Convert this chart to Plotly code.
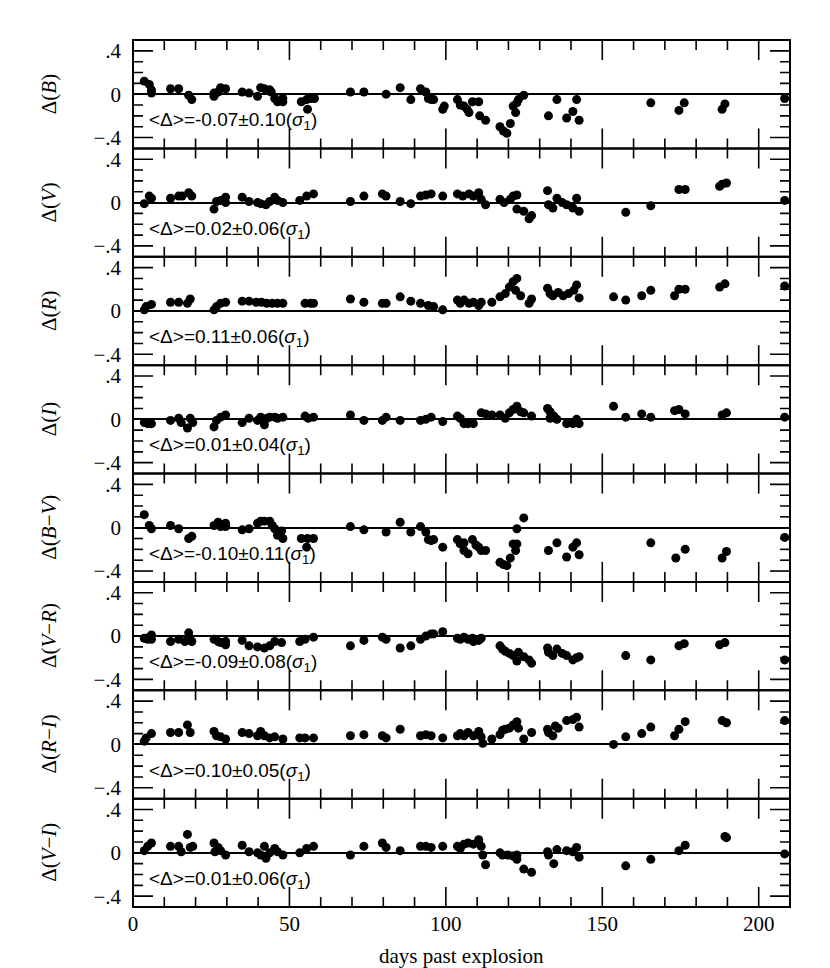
import plotly.graph_objects as go
from plotly.subplots import make_subplots

# ---------------- data ----------------
days_B = [3.6, 5.2, 5.9, 5.9, 12.0, 14.6, 17.8, 18.8, 25.9, 25.9, 27.2, 28.0, 29.6, 34.9, 37.1, 39.8, 40.8, 42.0, 43.7, 44.2,
          45.3, 46.2, 47.9, 47.9, 53.8, 55.5, 55.8, 56.7, 58.0, 69.5, 73.8, 80.9, 85.4, 88.8, 91.9, 93.6, 94.4, 95.3, 96.1, 99.0,
          99.5, 103.7, 104.6, 105.8, 106.8, 107.4, 108.5, 110.5, 110.8, 112.7, 117.3, 118.4, 119.5, 120.6, 121.5, 122.3, 122.7,
          123.2, 124.9, 132.8, 135.5, 138.6, 140.6, 141.8, 142.6, 165.5, 174.5, 176.2, 188.3, 189.2, 208.3]
dB = [0.12, 0.09, 0.04, 0.01, 0.05, 0.05, -0.01, -0.05, 0.01, -0.02, 0.02, 0.06, 0.05, 0.02, 0.01, -0.02, 0.06, 0.05, 0.04, 0.02,
      -0.04, -0.07, -0.07, -0.04, -0.07, -0.05, -0.14, -0.04, -0.04, 0.02, 0.02, 0.0, 0.06, -0.05, 0.05, 0.02, -0.04, -0.05, -0.05, -0.14,
      -0.11, -0.05, -0.10, -0.11, -0.14, -0.17, -0.07, -0.07, -0.20, -0.24, -0.30, -0.34, -0.36, -0.27, -0.11, -0.17, -0.08,
      -0.05, -0.01, -0.20, -0.05, -0.22, -0.16, -0.05, -0.24, -0.08, -0.15, -0.08, -0.14, -0.09, -0.04]

days_V = [3.6, 5.2, 5.9, 12.0, 14.6, 15.7, 17.8, 18.8, 25.9, 26.7, 28.0, 29.6, 29.6, 34.9, 37.1, 39.8, 40.8, 42.5, 43.7, 45.3,
          46.2, 47.9, 53.3, 55.5, 57.7, 69.5, 73.8, 79.7, 80.9, 85.4, 88.8, 91.9, 93.6, 95.3, 99.0, 103.7, 105.4, 107.4, 108.8,
          110.5, 111.3, 112.7, 117.3, 118.6, 120.6, 121.5, 122.7, 122.7, 124.9, 126.6, 127.4, 132.5, 132.8, 134.2, 135.5, 137.2,
          138.6, 140.6, 141.8, 142.6, 157.5, 165.5, 174.5, 176.5, 187.5, 188.3, 189.7, 208.3]
dV = [-0.01, 0.06, 0.04, 0.04, 0.06, 0.06, 0.09, 0.06, -0.06, 0.01, 0.02, 0.05, 0.0, 0.05, 0.01, 0.0, -0.01, -0.02, 0.01, 0.05,
      0.02, 0.0, 0.02, 0.06, 0.08, 0.01, 0.06, 0.08, 0.06, 0.01, -0.01, 0.06, 0.07, 0.08, 0.06, 0.08, 0.06, 0.08, 0.06,
      0.09, 0.03, -0.02, 0.03, 0.0, 0.03, 0.06, 0.07, -0.06, -0.08, -0.15, -0.12, 0.11, -0.02, -0.05, 0.04, 0.0,
      -0.02, -0.05, 0.04, -0.08, -0.09, -0.03, 0.12, 0.12, 0.15, 0.17, 0.18, 0.02]

days_R = [3.6, 4.2, 5.9, 12.0, 14.6, 17.4, 18.3, 25.9, 26.7, 28.0, 29.6, 34.9, 37.1, 39.4, 41.1, 42.8, 44.5, 46.2, 47.9, 55.0,
          56.7, 57.7, 69.5, 73.8, 79.7, 80.9, 85.4, 88.8, 91.9, 94.4, 96.1, 99.0, 103.7, 104.6, 105.8, 107.4, 108.8, 110.5,
          111.3, 114.7, 117.3, 119.0, 120.3, 121.5, 122.7, 122.3, 123.9, 126.6, 127.4, 132.5, 133.3, 134.2, 135.9, 137.5,
          139.2, 140.9, 141.8, 142.6, 153.6, 157.5, 162.6, 165.5, 173.1, 174.5, 176.5, 187.5, 189.2, 208.3]
dR = [0.01, 0.04, 0.06, 0.08, 0.08, 0.07, 0.11, 0.01, 0.04, 0.07, 0.08, 0.09, 0.09, 0.08, 0.08, 0.07, 0.07, 0.07, 0.07, 0.07,
      0.07, 0.07, 0.11, 0.08, 0.07, 0.07, 0.13, 0.09, 0.07, 0.05, 0.04, 0.01, 0.10, 0.07, 0.10, 0.07, 0.08, 0.05,
      0.08, 0.08, 0.13, 0.16, 0.22, 0.27, 0.30, 0.19, 0.14, 0.07, 0.11, 0.21, 0.16, 0.14, 0.17, 0.14,
      0.16, 0.19, 0.24, 0.12, 0.13, 0.10, 0.14, 0.19, 0.14, 0.20, 0.20, 0.22, 0.25, 0.23]

days_I = [3.6, 4.7, 5.9, 12.0, 14.6, 15.4, 17.4, 18.3, 19.1, 25.9, 26.7, 28.0, 29.6, 34.9, 37.1, 39.8, 40.8, 42.0, 42.8, 43.7,
          45.3, 46.2, 47.9, 55.0, 56.0, 57.7, 69.5, 73.8, 79.7, 80.9, 85.4, 91.9, 93.6, 95.3, 99.0, 103.7, 104.6, 105.8, 107.1,
          108.8, 111.3, 112.7, 114.7, 117.3, 119.0, 120.3, 121.5, 122.7, 123.9, 124.9, 127.4, 132.5, 133.3, 133.3, 134.5,
          135.5, 138.6, 140.6, 141.8, 142.6, 153.6, 157.5, 162.6, 165.5, 173.1, 174.5, 176.5, 188.3, 189.7, 208.3]
dI = [-0.03, -0.04, -0.04, -0.01, 0.01, -0.03, -0.08, 0.01, -0.03, -0.07, -0.01, 0.02, 0.04, -0.03, 0.01, -0.01, 0.02, -0.05, 0.01, 0.02,
      0.02, 0.01, 0.02, 0.03, 0.01, 0.02, 0.04, -0.01, -0.01, 0.02, -0.01, -0.01, 0.0, 0.02, -0.02, 0.03, 0.01, -0.04, -0.04,
      -0.04, 0.06, 0.05, 0.04, 0.04, 0.01, 0.06, 0.09, 0.12, 0.07, 0.06, 0.03, 0.10, 0.07, 0.01, 0.03,
      0.0, -0.04, -0.04, 0.0, -0.04, 0.12, 0.02, 0.05, 0.02, 0.08, 0.09, 0.05, 0.04, 0.06, 0.02]

days_BV = [3.6, 5.2, 5.9, 12.0, 14.6, 17.8, 18.8, 25.9, 27.2, 28.0, 29.6, 29.6, 34.9, 37.1, 39.8, 40.8, 42.0, 43.7, 44.5, 45.3,
           46.2, 47.5, 47.9, 53.8, 55.5, 55.8, 57.7, 69.5, 73.8, 80.9, 85.4, 88.8, 91.9, 93.6, 94.4, 95.3, 96.1, 99.0, 103.7,
           104.6, 105.8, 105.8, 107.1, 108.5, 109.6, 110.5, 111.3, 112.7, 117.3, 118.4, 119.5, 120.6, 121.5, 122.3, 122.7, 122.7,
           124.9, 132.8, 135.5, 138.6, 140.6, 141.8, 142.6, 165.5, 173.5, 176.5, 188.3, 189.7, 208.3]
dBV = [0.12, 0.02, -0.01, 0.02, -0.01, -0.10, -0.08, 0.02, 0.05, 0.01, 0.04, 0.01, -0.02, -0.01, 0.04, 0.06, 0.06, 0.06, 0.02, -0.01,
       -0.07, -0.03, -0.10, -0.10, -0.18, -0.10, -0.10, 0.01, -0.02, -0.04, 0.05, -0.04, 0.01, -0.04, -0.11, -0.12, -0.11, -0.18, -0.11,
       -0.15, -0.14, -0.21, -0.24, -0.11, -0.16, -0.18, -0.21, -0.21, -0.32, -0.34, -0.35, -0.28, -0.15, -0.21, -0.01, -0.15,
       0.09, -0.21, -0.14, -0.27, -0.18, -0.14, -0.25, -0.14, -0.28, -0.20, -0.28, -0.22, -0.09]

days_VR = [3.6, 4.7, 5.2, 5.9, 5.9, 12.0, 14.6, 16.6, 17.8, 18.3, 18.8, 25.9, 27.2, 28.0, 29.6, 29.6, 34.9, 37.1, 39.8, 42.0,
           43.7, 45.3, 47.5, 53.3, 55.0, 57.7, 69.5, 73.8, 79.7, 80.9, 85.4, 88.8, 91.9, 93.6, 95.3, 96.1, 99.0, 103.7, 104.6,
           105.8, 107.1, 108.5, 108.8, 110.5, 111.3, 117.3, 118.1, 119.0, 120.3, 121.5, 122.7, 123.2, 124.9, 126.6, 127.4,
           132.5, 132.8, 134.2, 135.5, 137.2, 138.6, 140.6, 141.8, 142.6, 157.5, 165.5, 174.5, 176.2, 187.5, 189.2, 208.3]
dVR = [-0.02, -0.03, -0.01, 0.01, -0.03, -0.05, -0.03, -0.05, 0.03, -0.03, -0.05, -0.03, -0.05, -0.06, -0.08, -0.05, -0.04, -0.09, -0.10, -0.11,
       -0.09, -0.05, -0.06, -0.05, -0.03, -0.01, -0.09, -0.04, -0.01, -0.03, -0.11, -0.09, -0.03, 0.0, 0.02, 0.02, 0.04, -0.02, -0.03,
       -0.01, -0.03, -0.02, -0.05, -0.04, -0.02, -0.09, -0.12, -0.14, -0.16, -0.18, -0.23, -0.15, -0.19, -0.22, -0.25,
       -0.11, -0.15, -0.18, -0.12, -0.16, -0.18, -0.22, -0.20, -0.19, -0.18, -0.22, -0.09, -0.07, -0.08, -0.06, -0.22]

days_RI = [3.6, 4.2, 5.9, 12.0, 14.6, 17.4, 18.3, 25.9, 26.7, 28.0, 29.6, 34.9, 37.1, 39.8, 40.8, 42.0, 43.7, 45.3, 47.9, 53.3,
           55.0, 57.7, 69.5, 73.8, 79.7, 80.9, 85.4, 91.9, 93.6, 95.3, 99.0, 103.7, 104.6, 105.8, 107.1, 108.8, 110.5, 111.3,
           111.8, 114.7, 117.3, 118.1, 119.0, 120.3, 121.5, 122.7, 123.2, 124.9, 127.4, 132.5, 132.8, 134.2, 135.0, 135.9,
           138.6, 140.6, 141.8, 142.6, 153.6, 157.5, 162.6, 165.5, 173.1, 174.5, 176.5, 188.3, 189.7, 208.3]
dRI = [0.03, 0.06, 0.10, 0.11, 0.11, 0.18, 0.11, 0.12, 0.08, 0.07, 0.05, 0.11, 0.10, 0.08, 0.12, 0.08, 0.06, 0.07, 0.05, 0.06,
       0.06, 0.06, 0.08, 0.09, 0.08, 0.06, 0.14, 0.08, 0.09, 0.08, 0.06, 0.08, 0.10, 0.08, 0.11, 0.08, 0.12, 0.07,
       0.01, 0.05, 0.09, 0.13, 0.14, 0.15, 0.18, 0.21, 0.15, 0.05, 0.11, 0.14, 0.11, 0.08, 0.17, 0.15,
       0.22, 0.23, 0.25, 0.16, 0.0, 0.07, 0.10, 0.16, 0.08, 0.14, 0.21, 0.22, 0.20, 0.22]

days_VI = [3.6, 4.7, 5.9, 12.0, 14.6, 15.4, 17.4, 18.3, 19.1, 25.9, 26.2, 27.2, 28.0, 29.6, 34.9, 37.1, 39.8, 40.8, 42.0, 42.5,
           43.7, 45.3, 46.2, 47.9, 53.3, 55.5, 57.7, 69.5, 73.8, 79.7, 80.9, 85.4, 91.9, 93.6, 95.3, 99.0, 103.7, 104.6, 105.8,
           107.1, 108.8, 110.5, 111.3, 111.8, 112.7, 117.3, 118.1, 119.8, 121.5, 122.7, 122.7, 124.9, 127.4, 132.5, 132.8,
           134.5, 135.5, 138.6, 140.6, 141.8, 142.6, 157.5, 165.5, 174.5, 176.5, 189.2, 189.7, 208.3]
dVI = [0.02, 0.06, 0.09, 0.06, 0.06, 0.01, 0.17, 0.05, 0.06, 0.09, 0.01, 0.05, 0.02, -0.02, 0.07, 0.01, 0.0, -0.02, 0.06, -0.05,
       0.0, 0.04, 0.01, -0.02, 0.0, 0.04, 0.06, -0.02, 0.06, 0.09, 0.05, 0.02, 0.06, 0.06, 0.05, 0.06, 0.06, 0.04, 0.08,
       0.09, 0.08, 0.12, 0.06, -0.02, -0.11, 0.0, -0.02, -0.02, -0.03, -0.06, -0.02, -0.15, -0.18, 0.01, -0.02,
       -0.10, 0.03, 0.02, 0.01, 0.05, -0.04, -0.12, -0.06, 0.02, 0.07, 0.15, 0.14, -0.01]

panel_titles = ["Δ(<i>B</i>)", "Δ(<i>V</i>)", "Δ(<i>R</i>)", "Δ(<i>I</i>)",
                "Δ(<i>B</i>−<i>V</i>)", "Δ(<i>V</i>−<i>R</i>)", "Δ(<i>R</i>−<i>I</i>)", "Δ(<i>V</i>−<i>I</i>)"]
mean_labels = ["-0.07±0.10", "0.02±0.06", "0.11±0.06", "0.01±0.04",
               "-0.10±0.11", "-0.09±0.08", "0.10±0.05", "0.01±0.06"]
# y axis: labels at -.4, 0, .4 ; small ticks every 0.1, long ticks at +-0.4
y_label_vals = [-0.4, 0.0, 0.4]
y_label_text = ["−.4", "0", ".4"]
y_minor_ticks = [-0.3, -0.2, -0.1, 0.1, 0.2, 0.3]
y_major_ticks = [-0.4, 0.4]
# x axis: labels every 50 days ; small ticks every 10, long ticks every 50
x_label_vals = [0, 50, 100, 150, 200]
x_minor_ticks = [10, 20, 30, 40, 60, 70, 80, 90, 110, 120, 130, 140, 160, 170, 180, 190]
x_major_ticks = [50, 100, 150, 200]
x_title = "days past explosion"

series = [(days_B, dB), (days_V, dV), (days_R, dR), (days_I, dI),
          (days_BV, dBV), (days_VR, dVR), (days_RI, dRI), (days_VI, dVI)]

# ---------------- figure ----------------
n = len(series)
fig = make_subplots(rows=n, cols=1, shared_xaxes=True, vertical_spacing=0)

serif = "Liberation Serif"
X_RANGE = [0, 210]
Y_RANGE = [-0.5, 0.5]
W = 830 - 125 - 48           # plot width in px
H = (968 - 32 - 69) / n      # panel height in px
SHORT, LONG = 10, 20         # tick lengths in px
xspan = X_RANGE[1] - X_RANGE[0]
yspan = Y_RANGE[1] - Y_RANGE[0]

# tick-mark path (same for every panel) drawn as a line trace, in data units
tick_x, tick_y = [], []
for vals, ln in ((x_minor_ticks, SHORT), (x_major_ticks, LONG)):
    dy = ln / H * yspan
    for xv in vals:
        tick_x += [xv, xv, None, xv, xv, None]
        tick_y += [Y_RANGE[1], Y_RANGE[1] - dy, None, Y_RANGE[0], Y_RANGE[0] + dy, None]
for vals, ln in ((y_minor_ticks, SHORT), (y_major_ticks, LONG)):
    dx = ln / W * xspan
    for yv in vals:
        tick_x += [X_RANGE[0], X_RANGE[0] + dx, None, X_RANGE[1] - dx, X_RANGE[1], None]
        tick_y += [yv, yv, None, yv, yv, None]

for i, (xs, ys) in enumerate(series, start=1):
    fig.add_trace(go.Scatter(x=tick_x, y=tick_y, mode="lines", line=dict(color="black", width=1.6),
                             hoverinfo="skip", showlegend=False, connectgaps=False), row=i, col=1)
    fig.add_trace(go.Scatter(x=xs, y=ys, mode="markers",
                             marker=dict(color="black", size=9, line=dict(width=0)),
                             showlegend=False), row=i, col=1)
    fig.update_yaxes(range=Y_RANGE, tickmode="array", tickvals=y_label_vals, ticktext=y_label_text,
                     ticks="", showline=False, showgrid=False,
                     zeroline=True, zerolinecolor="black", zerolinewidth=1.6,
                     ticklabelstandoff=11, tickfont=dict(family=serif, size=21, color="black"),
                     row=i, col=1)
    fig.update_xaxes(range=X_RANGE, tickmode="array", tickvals=x_label_vals,
                     ticks="", showline=False, showgrid=False, zeroline=False,
                     tickfont=dict(family=serif, size=21, color="black"), row=i, col=1)
    suf = "" if i == 1 else str(i)
    xd, yd = f"x{suf} domain", f"y{suf} domain"
    # panel frame (shared edges between panels drawn once)
    fig.add_shape(type="rect", xref=xd, yref=yd, x0=0, x1=1, y0=0, y1=1,
                  line=dict(color="black", width=2), fillcolor="rgba(0,0,0,0)", layer="above")
    # y-axis title
    fig.add_annotation(text=panel_titles[i - 1], xref="paper", yref=yd, x=0, y=0.5,
                       xanchor="center", yanchor="middle", xshift=-84, textangle=-90,
                       showarrow=False, font=dict(family=serif, size=21, color="black"))
    # mean label
    fig.add_annotation(text="&lt;Δ&gt;=" + mean_labels[i - 1] + "(<i>σ</i><sub>1</sub>)",
                       xref=xd, yref=yd, x=0.022, y=0.25,
                       xanchor="left", yanchor="middle", showarrow=False,
                       font=dict(family="Liberation Sans", size=19, color="black"))

fig.update_xaxes(ticklabelstandoff=2, row=n, col=1)
fig.add_annotation(text=x_title, xref="paper", yref="paper", x=0.5, y=0,
                   xanchor="center", yanchor="middle", yshift=-49, showarrow=False,
                   font=dict(family=serif, size=21, color="black"))

fig.update_layout(width=830, height=968, margin=dict(l=125, r=48, t=32, b=69),
                  paper_bgcolor="white", plot_bgcolor="white")

fig.write_html("out.html")
